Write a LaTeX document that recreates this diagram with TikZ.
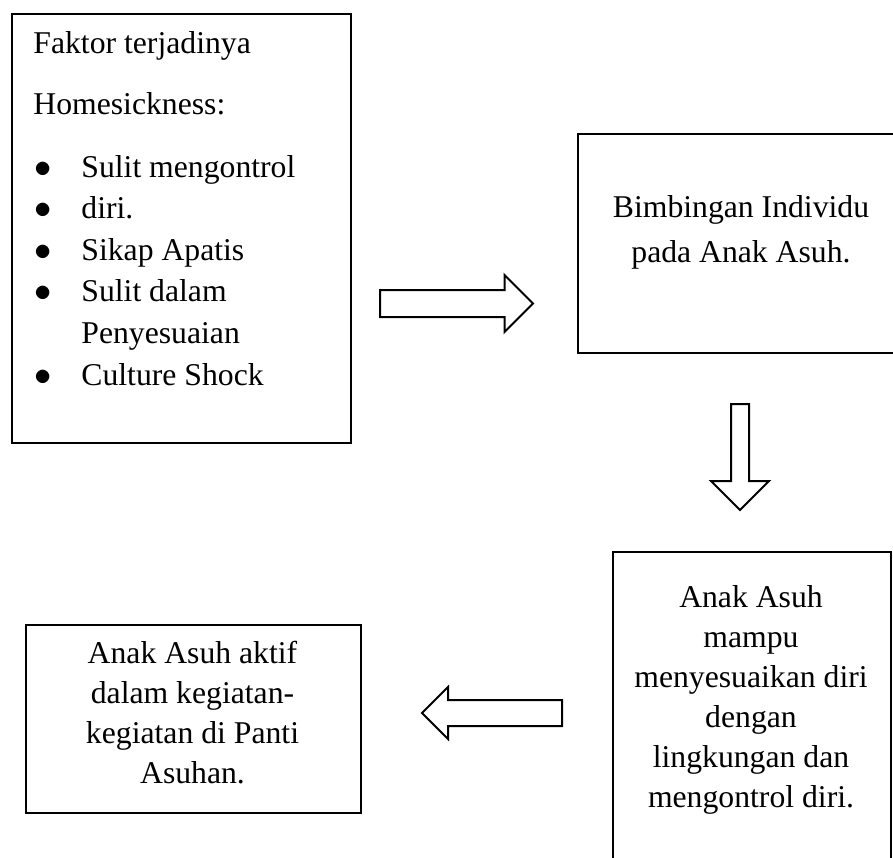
\documentclass[tikz,border=0pt]{standalone}
\usepackage{fontspec}
\setmainfont{Liberation Serif}
\usetikzlibrary{positioning}
\usetikzlibrary{shapes.arrows}

\begin{document}
\begin{tikzpicture}[
        % one unit is one pixel of the sketch, y runs downwards
        x=0.5pt, y=-0.5pt,
        flowbox/.style={
            draw,
            rectangle,
            line width=1pt,
            anchor=north west,
            inner sep=0pt
        },
        boxtext/.style={
            font=\fontsize{15.85pt}{20pt}\selectfont,
            align=center,
            anchor=base,
            inner sep=0pt
        },
        listtext/.style={
            font=\fontsize{15.85pt}{20.8pt}\selectfont,
            anchor=base west,
            inner sep=0pt
        },
        blockarrow/.style={
            draw, single arrow, line width=1pt,
            single arrow tip angle=90,
            anchor=tail, inner sep=0pt
        }
        ]

        \useasboundingbox (0,0) rectangle (893,857);

        \node [flowbox, minimum width=169.5pt, minimum height=214.5pt] (faktor) at (11,13) {};
        \node [listtext, xshift=11pt, yshift=-20pt] (faktor_judul1) at (faktor.north west) {Faktor terjadinya};
        \node [listtext, xshift=11pt, yshift=-50.5pt] (faktor_judul2) at (faktor.north west) {Homesickness:};
        \node [listtext, xshift=11.75pt, yshift=-82pt] (faktor_list) at (faktor.north west) {%
            \begin{tabular}[t]{@{}p{23.25pt}@{}l@{}}
            $\bullet$ & Sulit mengontrol\\
            $\bullet$ & diri.\\
            $\bullet$ & Sikap Apatis\\
            $\bullet$ & Sulit dalam\\
                      & Penyesuaian\\
            $\bullet$ & Culture Shock
            \end{tabular}};

        % the text nodes sit on the baseline of their last line
        \node [flowbox, minimum width=164pt, minimum height=109.5pt] (bimbingan) at (577,133) {};
        \node [boxtext, font=\fontsize{15.85pt}{22.5pt}\selectfont, xshift=82pt, yshift=-64.5pt] (bimbingan_t) at (bimbingan.north west) {Bimbingan Individu\\pada Anak Asuh.};

        \node [flowbox, minimum width=139pt, minimum height=164.5pt] (mampu) at (612,551) {};
        \node [boxtext, xshift=69.5pt, yshift=-128pt] (mampu_t) at (mampu.north west) {Anak Asuh\\mampu\\menyesuaikan diri\\dengan\\lingkungan dan\\mengontrol diri.};

        \node [flowbox, minimum width=167.5pt, minimum height=94pt] (aktif) at (25,624) {};
        \node [boxtext, xshift=83.75pt, yshift=-79.5pt] (aktif_t) at (aktif.north west) {Anak Asuh aktif\\dalam kegiatan-\\kegiatan di Panti\\Asuhan.};

        \node [blockarrow, minimum height=76.5pt, inner sep=6.25pt, single arrow head extend=7.5pt] (panah_kanan) at (379,303.5) {};
        \node [blockarrow, shape border rotate=270, minimum height=53pt, inner sep=4pt, single arrow head extend=10pt] (panah_bawah) at (740,403) {};
        \node [blockarrow, shape border rotate=180, minimum height=70pt, inner sep=6pt, single arrow head extend=6.5pt] (panah_kiri) at (563,713) {};
\end{tikzpicture}
\end{document}
